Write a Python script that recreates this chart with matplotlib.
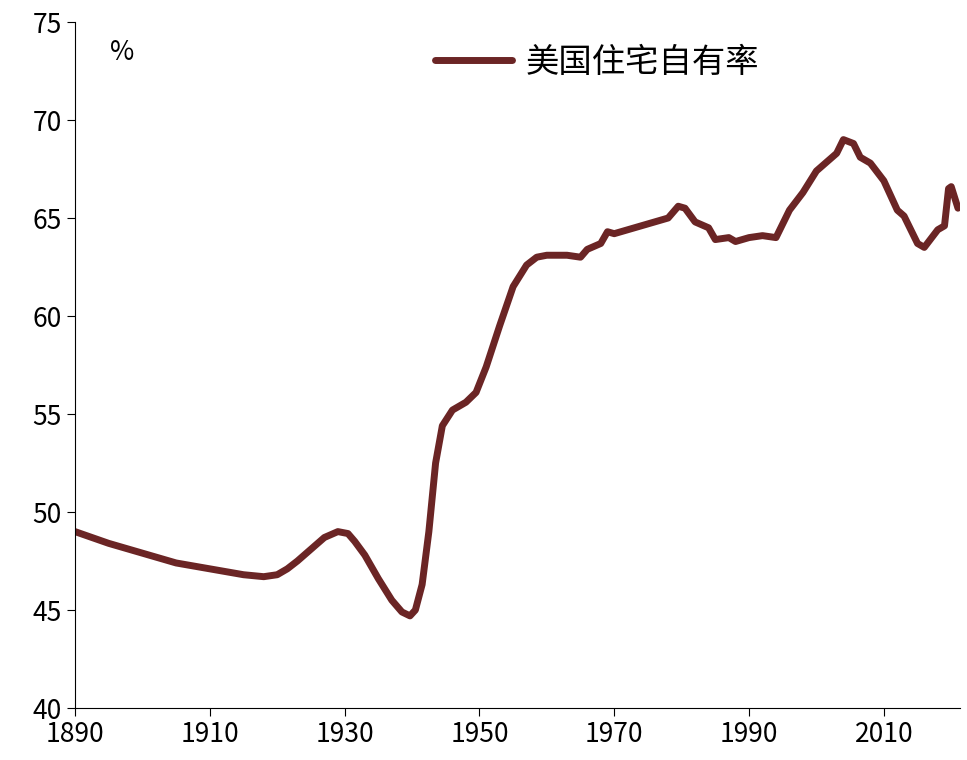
import matplotlib
matplotlib.use("Agg")
import matplotlib.pyplot as plt

plt.rcParams['font.family'] = ['Noto Sans CJK SC', 'DejaVu Sans']

years = [1890, 1895, 1900, 1905, 1910, 1915, 1918, 1920, 1921.5, 1923, 1925, 1927, 1929, 1930.5, 1931.5, 1933, 1935, 1937, 1938.5, 1939.7, 1940.5, 1941.5, 1942.5, 1943.5, 1944.5, 1946, 1948, 1949.5, 1951, 1953, 1955, 1957, 1958.5, 1960, 1963, 1965, 1966, 1968, 1969, 1970, 1973, 1975, 1978, 1979.5, 1980.5, 1982, 1984, 1985, 1987, 1988, 1990, 1992, 1994, 1996, 1998, 2000, 2002, 2003, 2004, 2005.5, 2006.5, 2008, 2010, 2012, 2013, 2015, 2016, 2018, 2019, 2019.6, 2020, 2021]
rate = [49.0, 48.4, 47.9, 47.4, 47.1, 46.8, 46.7, 46.8, 47.1, 47.5, 48.1, 48.7, 49.0, 48.9, 48.5, 47.8, 46.6, 45.5, 44.9, 44.7, 45.0, 46.3, 49.0, 52.5, 54.4, 55.2, 55.6, 56.1, 57.4, 59.5, 61.5, 62.6, 63.0, 63.1, 63.1, 63.0, 63.4, 63.7, 64.3, 64.2, 64.5, 64.7, 65.0, 65.6, 65.5, 64.8, 64.5, 63.9, 64.0, 63.8, 64.0, 64.1, 64.0, 65.4, 66.3, 67.4, 68.0, 68.3, 69.0, 68.8, 68.1, 67.8, 66.9, 65.4, 65.1, 63.7, 63.5, 64.4, 64.6, 66.5, 66.6, 65.5]

fig = plt.figure(figsize=(9.67, 7.6), dpi=100)
ax = fig.add_axes([75/967, 52/760, 885/967, 686/760])
ax.plot(years, rate, color='#6B2525', lw=5, label='美国住宅自有率', solid_joinstyle='round', solid_capstyle='round')
ax.set_xlim(1890, 2021.3)
ax.set_ylim(40, 75)
ax.set_xticks(range(1890, 2021, 20))
ax.set_yticks(range(40, 76, 5))
ax.tick_params(labelsize=19, direction='out', length=6)
for s in ['top', 'right']:
    ax.spines[s].set_visible(False)
ax.text(0.04, 0.975, '%', transform=ax.transAxes, fontsize=19, ha='left', va='top')
ax.legend(loc='upper center', bbox_to_anchor=(0.59, 1.01), frameon=False, fontsize=24, handlelength=2.3, handletextpad=0.4)
fig.savefig('out.png', dpi=100)
